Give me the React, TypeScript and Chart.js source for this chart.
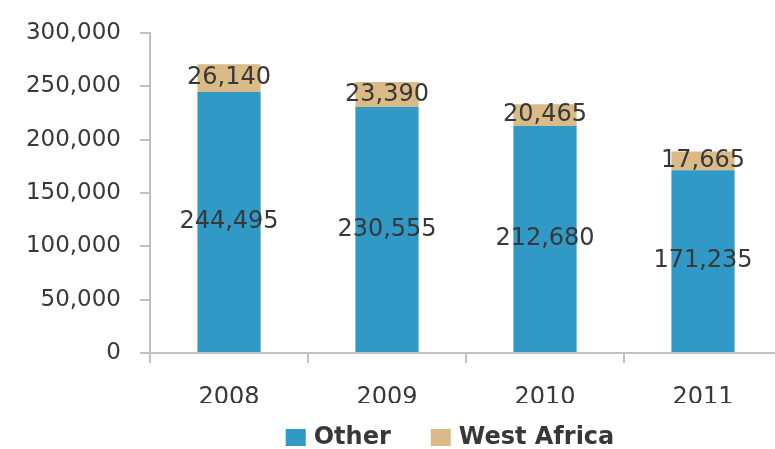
import React, { useEffect, useRef } from "react";
import { Chart, registerables } from "chart.js";

Chart.register(...registerables);

const categories = ["2008", "2009", "2010", "2011"];
const otherValues = [244495, 230555, 212680, 171235];
const westAfricaValues = [26140, 23390, 20465, 17665];
const seriesNames = ["Other", "West Africa"];
const seriesColors = ["#3099C5", "#DABB87"];
const yTicks = [0, 50000, 100000, 150000, 200000, 250000, 300000];

const FONT = "'DejaVu Sans', Verdana, sans-serif";
const TEXT = "#383838";
const AXIS = "#c0c0c0";

const fmt = (v: number) => v.toLocaleString("en-US");

const dataLabelPlugin = {
  id: "dataLabels",
  afterDatasetsDraw(chart: any) {
    const ctx = chart.ctx;
    ctx.save();
    ctx.font = `24px ${FONT}`;
    ctx.fillStyle = TEXT;
    ctx.textAlign = "center";
    ctx.textBaseline = "middle";
    chart.data.datasets.forEach((ds: any, di: number) => {
      const meta = chart.getDatasetMeta(di);
      meta.data.forEach((el: any, i: number) => {
        const cy = (el.y + el.base) / 2;
        ctx.fillText(fmt(ds.data[i]), el.x, cy);
      });
    });
    ctx.restore();
  },
};

const legendPlugin = {
  id: "customLegend",
  afterDraw(chart: any) {
    const ctx = chart.ctx;
    ctx.save();
    ctx.font = `bold 24px ${FONT}`;
    ctx.textBaseline = "middle";
    const box = 20;
    const gap = 8;
    const spacing = 40;
    const items = chart.data.datasets.map((ds: any) => ({
      label: ds.label,
      color: ds.backgroundColor,
      w: box + gap + ctx.measureText(ds.label).width,
    }));
    const total = items.reduce((a: number, it: any) => a + it.w, 0) + spacing * (items.length - 1);
    const centerX = 450;
    const cy = 437;
    let x = centerX - total / 2;
    items.forEach((it: any) => {
      ctx.fillStyle = it.color;
      ctx.fillRect(x, cy - 8, box, 17);
      ctx.fillStyle = TEXT;
      ctx.textAlign = "left";
      ctx.fillText(it.label, x + box + gap, cy + 1);
      x += it.w + spacing;
    });
    ctx.restore();
  },
};

export default function App() {
  const ref = useRef<HTMLCanvasElement | null>(null);

  useEffect(() => {
    if (!ref.current) return;
    const chart = new Chart(ref.current, {
      type: "bar",
      data: {
        labels: categories,
        datasets: [
          {
            label: seriesNames[0],
            data: otherValues,
            backgroundColor: seriesColors[0],
            barPercentage: 0.4,
            categoryPercentage: 1,
          },
          {
            label: seriesNames[1],
            data: westAfricaValues,
            backgroundColor: seriesColors[1],
            barPercentage: 0.4,
            categoryPercentage: 1,
          },
        ],
      },
      options: {
        responsive: false,
        animation: false,
        maintainAspectRatio: false,
        layout: { padding: { left: 0, right: 0, top: 29, bottom: 46 } },
        plugins: {
          legend: { display: false },
          tooltip: { enabled: false },
        },
        scales: {
          x: {
            stacked: true,
            afterFit: (s: any) => {
              s.height = 50;
            },
            grid: {
              offset: true,
              drawOnChartArea: false,
              drawTicks: true,
              tickLength: 10,
              color: AXIS,
              lineWidth: 2,
            },
            border: { color: AXIS, width: 2 },
            ticks: {
              color: TEXT,
              padding: 20,
              font: { family: FONT, size: 24 },
            },
          },
          y: {
            stacked: true,
            min: 0,
            max: 300000,
            afterFit: (s: any) => {
              s.width = 150;
            },
            afterBuildTicks: (s: any) => {
              s.ticks = yTicks.map((v) => ({ value: v }));
            },
            grid: {
              drawOnChartArea: false,
              drawTicks: true,
              tickLength: 10,
              color: AXIS,
              lineWidth: 2,
            },
            border: { color: AXIS, width: 2 },
            ticks: {
              color: TEXT,
              padding: 19,
              font: { family: FONT, size: 23 },
              callback: (v: any) => fmt(Number(v)),
            },
          },
        },
      },
      plugins: [dataLabelPlugin, legendPlugin],
    });
    return () => chart.destroy();
  }, []);

  return (
    <div
      style={{
        position: "fixed",
        left: 0,
        top: 0,
        width: 775,
        height: 449,
        overflow: "hidden",
        background: "#ffffff",
      }}
    >
      <canvas ref={ref} width={782} height={449} style={{ display: "block" }} />
    </div>
  );
}
